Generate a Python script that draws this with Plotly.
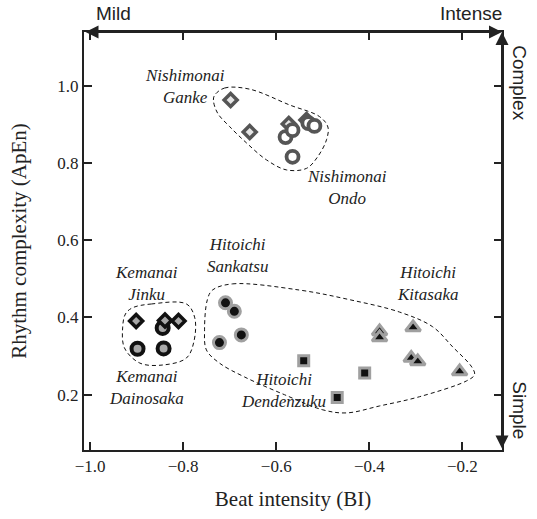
import plotly.graph_objects as go

# ---- data ----
ganke_x = [-0.698, -0.657, -0.573, -0.535]
ganke_y = [0.963, 0.880, 0.901, 0.911]

ondo_x = [-0.580, -0.565, -0.531, -0.518, -0.565]
ondo_y = [0.867, 0.885, 0.903, 0.896, 0.816]

jinku_x = [-0.901, -0.839, -0.810]
jinku_y = [0.391, 0.392, 0.391]

dainosaka_x = [-0.898, -0.842, -0.844]
dainosaka_y = [0.319, 0.320, 0.373]

sankatsu_x = [-0.709, -0.690, -0.722, -0.675]
sankatsu_y = [0.438, 0.416, 0.335, 0.355]

dendenzuku_x = [-0.541, -0.410, -0.469]
dendenzuku_y = [0.288, 0.256, 0.193]

kitasaka_x = [-0.378, -0.378, -0.306, -0.310, -0.296, -0.206]
kitasaka_y = [0.364, 0.348, 0.374, 0.295, 0.286, 0.260]

# group outlines (dashed)
nishi_hull_x = [-0.732, -0.711, -0.657, -0.571, -0.507, -0.489, -0.492, -0.511, -0.535,
                -0.578, -0.621, -0.664, -0.700, -0.726, -0.735, -0.732]
nishi_hull_y = [0.976, 0.994, 0.991, 0.950, 0.920, 0.893, 0.860, 0.816, 0.786,
                0.782, 0.808, 0.852, 0.894, 0.929, 0.963, 0.976]
kema_hull_x = [-0.909, -0.868, -0.793, -0.775, -0.777, -0.793, -0.844, -0.893, -0.926, -0.930, -0.924, -0.909]
kema_hull_y = [0.425, 0.435, 0.435, 0.399, 0.337, 0.295, 0.277, 0.282, 0.321, 0.373, 0.409, 0.425]
hito_hull_x = [-0.737, -0.694, -0.550, -0.442, -0.335, -0.264, -0.221, -0.180, -0.174, -0.191,
               -0.292, -0.378, -0.449, -0.500, -0.582, -0.668, -0.722, -0.750, -0.754, -0.748, -0.737]
hito_hull_y = [0.471, 0.487, 0.471, 0.446, 0.414, 0.376, 0.324, 0.272, 0.252, 0.236,
               0.195, 0.171, 0.153, 0.161, 0.200, 0.246, 0.282, 0.316, 0.368, 0.446, 0.471]

x_ticks = [-1.0, -0.8, -0.6, -0.4, -0.2]
y_ticks = [0.2, 0.4, 0.6, 0.8, 1.0]

AX = "#222222"
SERIF = "Liberation Serif, Times New Roman, serif"
SANS = "Liberation Sans, Arial, sans-serif"

fig = go.Figure()

for hx, hy in [(nishi_hull_x, nishi_hull_y), (kema_hull_x, kema_hull_y), (hito_hull_x, hito_hull_y)]:
    fig.add_trace(go.Scatter(x=hx, y=hy, mode="lines",
                             line=dict(color="#111111", width=1, dash="4px,3px", shape="spline", smoothing=1.0),
                             hoverinfo="skip", showlegend=False))

def pts(x, y, symbol, size, fill, lc, lw):
    fig.add_trace(go.Scatter(x=x, y=y, mode="markers", showlegend=False,
                             marker=dict(symbol=symbol, size=size, color=fill,
                                         line=dict(color=lc, width=lw))))

pts(ganke_x, ganke_y, "diamond", 10, "#e6e6e6", "#555555", 3.5)
pts(ondo_x, ondo_y, "circle", 12, "#ffffff", "#555555", 3.8)
pts(dainosaka_x, dainosaka_y, "circle", 12, "#a8a8a8", "#111111", 4)
pts(jinku_x, jinku_y, "diamond", 10, "#a8a8a8", "#111111", 3.5)
pts(sankatsu_x, sankatsu_y, "circle", 12, "#111111", "#a0a0a0", 3)
pts(dendenzuku_x, dendenzuku_y, "square", 10, "#111111", "#a0a0a0", 3)
pts(kitasaka_x, kitasaka_y, "triangle-up", 13, "#111111", "#a0a0a0", 3)

labels = [
    ("Nishimonai<br>Ganke", -0.797, 0.997),
    ("Nishimonai<br>Ondo", -0.447, 0.737),
    ("Kemanai<br>Jinku", -0.878, 0.489),
    ("Kemanai<br>Dainosaka", -0.878, 0.220),
    ("Hitoichi<br>Sankatsu", -0.683, 0.560),
    ("Hitoichi<br>Kitasaka", -0.275, 0.489),
    ("Hitoichi<br>Dendenzuku", -0.584, 0.210),
]
for t, lx, ly in labels:
    fig.add_annotation(x=lx, y=ly, text="<i>" + t + "</i>", showarrow=False,
                       font=dict(family=SERIF, size=17, color="#222222"), align="center")

# arrows on top and right axes
fig.add_annotation(x=1, y=1, xref="x domain", yref="y domain", ax=0, ay=1,
                   axref="x domain", ayref="y domain", text="", showarrow=True,
                   arrowhead=2, startarrowhead=2, arrowside="end+start", arrowsize=1.3,
                   startarrowsize=1.3, arrowwidth=2, arrowcolor=AX, standoff=0, startstandoff=0)
fig.add_annotation(x=1, y=1, xref="x domain", yref="y domain", ax=1, ay=0,
                   axref="x domain", ayref="y domain", text="", showarrow=True,
                   arrowhead=2, startarrowhead=2, arrowside="end+start", arrowsize=1.3,
                   startarrowsize=1.3, arrowwidth=2, arrowcolor=AX, standoff=0, startstandoff=0)

for t, px in [("Mild", 0.07), ("Intense", 0.925)]:
    fig.add_annotation(x=px, y=1.0, xref="paper", yref="paper", text=t, showarrow=False,
                       xanchor="center", yanchor="middle", yshift=19,
                       font=dict(family=SANS, size=19, color="#222222"))
for t, py in [("Complex", 0.88), ("Simple", 0.095)]:
    fig.add_annotation(x=1.0, y=py, xref="paper", yref="paper", text=t, showarrow=False,
                       textangle=90, xanchor="center", yanchor="middle", xshift=18,
                       font=dict(family=SANS, size=19, color="#222222"))

axis_common = dict(showline=True, linewidth=2, linecolor=AX, mirror="ticks",
                   ticks="inside", ticklen=8, tickwidth=2, tickcolor=AX,
                   showgrid=False, zeroline=False, automargin=False,
                   tickfont=dict(family=SERIF, size=17, color="#222222"))

fig.update_xaxes(range=[-1.013, -0.115], tickvals=x_ticks, tickformat=".1f",
                 title=dict(text="Beat intensity (BI)", font=dict(family=SERIF, size=21, color="#222222"),
                            standoff=16), **axis_common)
fig.update_yaxes(range=[0.057, 1.139], tickvals=y_ticks, tickformat=".1f",
                 title=dict(text="Rhythm complexity (ApEn)", font=dict(family=SERIF, size=21, color="#222222"),
                            standoff=25), **axis_common)

fig.update_layout(width=537, height=519, margin=dict(l=84, r=35, t=32, b=69, autoexpand=False),
                  plot_bgcolor="white", paper_bgcolor="white", showlegend=False)

# remove the browser's default 8px page margin so the figure sits at the page origin
fig.write_html("out.html", config={"displayModeBar": False},
               post_script="document.body.style.margin='0px';")
